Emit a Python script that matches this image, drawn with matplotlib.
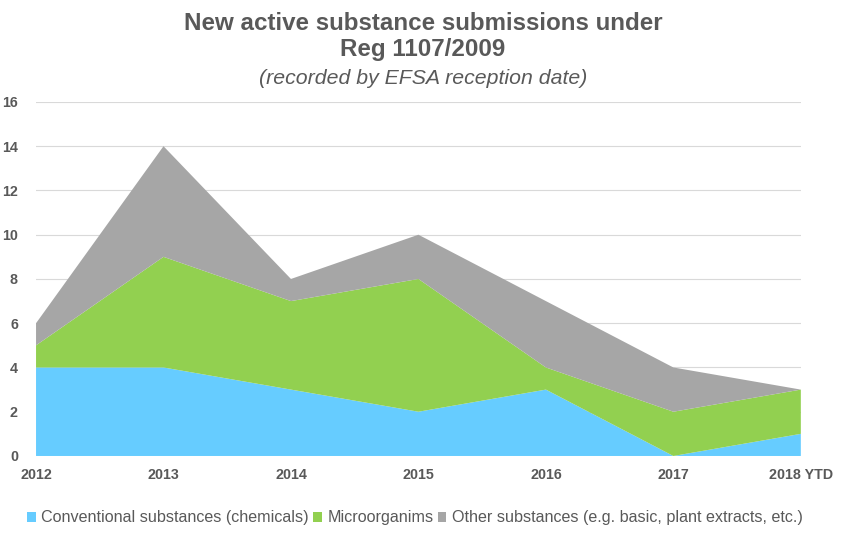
import numpy as np
import matplotlib.pyplot as plt
from matplotlib.patches import Patch

plt.rcParams['font.family'] = ['Liberation Sans', 'DejaVu Sans']

# data
years = ['2012', '2013', '2014', '2015', '2016', '2017', '2018 YTD']
conventional = [4, 4, 3, 2, 3, 0, 1]
microorganisms = [1, 5, 4, 6, 1, 2, 2]
other = [1, 5, 1, 2, 3, 2, 0]
labels = ['Conventional substances (chemicals)', 'Microorganims',
          'Other substances (e.g. basic, plant extracts, etc.)']
colors = ['#66CCFF', '#92D050', '#A6A6A6']
text_col = '#595959'

fig = plt.figure(figsize=(8.46, 5.4), dpi=100)
ax = fig.add_axes([0.0426, 0.1556, 0.904, 0.6556])

x = np.arange(len(years))
ax.stackplot(x, conventional, microorganisms, other, colors=colors, linewidth=0, zorder=2)

ax.set_xlim(0, len(years) - 1)
ax.set_ylim(0, 16)
ax.set_yticks(range(0, 17, 2))
ax.set_xticks(x)
ax.set_xticklabels(years)
ax.grid(axis='y', color='#D9D9D9', linewidth=0.8, zorder=0)
ax.set_axisbelow(True)
for s in ax.spines.values():
    s.set_visible(False)
ax.tick_params(length=0, colors=text_col, labelsize=10.3)
for lbl in ax.get_xticklabels() + ax.get_yticklabels():
    lbl.set_fontweight('bold')
ax.tick_params(axis='y', pad=13)
ax.tick_params(axis='x', pad=9)

fig.text(0.5, 0.933, 'New active substance submissions under\nReg 1107/2009',
         ha='center', va='center', fontsize=17.4, fontweight='bold',
         color=text_col, linespacing=1.18)
fig.text(0.5, 0.854, '(recorded by EFSA reception date)', ha='center', va='center',
         fontsize=15.3, style='italic', color=text_col)

handles = [Patch(facecolor=c, edgecolor='none') for c in colors]
fig.legend(handles, labels, loc='center left', bbox_to_anchor=(0.0145, 0.041),
           ncol=3, frameon=False, fontsize=11.6, handlelength=0.55, handleheight=0.55,
           handletextpad=0.35, columnspacing=0.25, labelcolor=text_col)

fig.savefig('out.png', dpi=100)
